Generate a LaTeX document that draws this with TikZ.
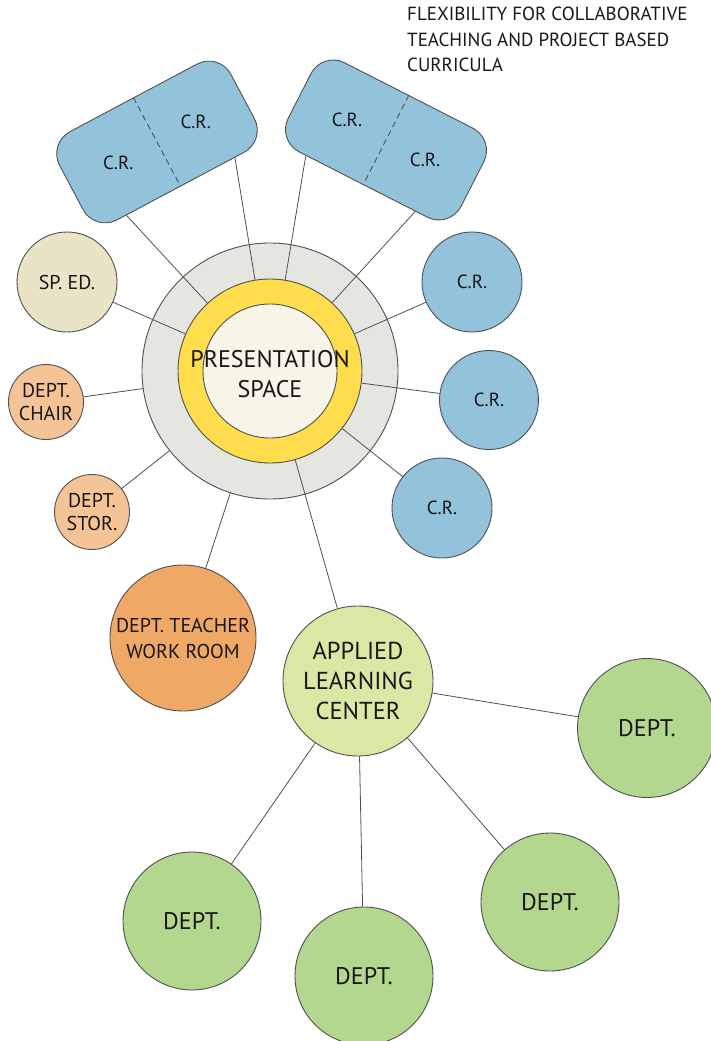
\documentclass[tikz,border=0pt]{standalone}
\usepackage{fontspec}
\setmainfont{PT Sans}
\usetikzlibrary{calc}

\definecolor{edgegrey}{RGB}{80,80,80}
\definecolor{ink}{RGB}{25,22,23}
\definecolor{crblue}{RGB}{147,194,219}
\definecolor{ringgrey}{RGB}{230,230,225}
\definecolor{ringyellow}{RGB}{255,221,76}
\definecolor{presfill}{RGB}{248,244,232}
\definecolor{spedfill}{RGB}{234,228,198}
\definecolor{deptpeach}{RGB}{245,196,150}
\definecolor{workorange}{RGB}{239,168,102}
\definecolor{alcgreen}{RGB}{218,232,166}
\definecolor{deptgreen}{RGB}{180,215,143}

\begin{document}
\begin{tikzpicture}[x=1pt,y=1pt,yscale=-1,xscale=1,
		bubble/.style={circle,draw=edgegrey,line width=0.9pt,inner sep=0pt,text=ink,align=center},
		crpair/.style={rectangle,draw=edgegrey,line width=0.9pt,fill=crblue,rounded corners=25pt,minimum width=194pt,minimum height=100pt},
		crtext/.style={text=ink,font=\fontsize{19}{22}\selectfont},
		link/.style={draw=edgegrey,line width=0.8pt}]
		\useasboundingbox (0,0) rectangle (710,1041);

		% The heading in the upper right corner
		\node[anchor=north west,inner sep=0pt,align=left,text=ink,font=\fontsize{19}{25.5}\selectfont] (heading) at (407,7)
		{FLEXIBILITY FOR COLLABORATIVE\\TEACHING AND PROJECT BASED\\CURRICULA};

		% The three rings of the presentation space
		\node[bubble,fill=ringgrey,minimum size=256pt] (ring) at (270,371) {};
		\node[bubble,fill=ringyellow,minimum size=184pt] (pres) at (270,371) {};
		\node[bubble,fill=presfill,minimum size=134pt] (presin) at (270,371) {};
		\node[text=ink,align=center,font=\fontsize{24}{30}\selectfont] (prestext) at (270,374) {PRESENTATION\\SPACE};

		% The two paired classrooms at the top, split by a dashed line
		\node[crpair,rotate=28] (crL) at (157,142) {};
		\node[crpair,rotate=-27] (crR) at (386,140) {};
		\draw[edgegrey,line width=0.9pt,dash pattern=on 6pt off 4pt] (crL.north) -- (crL.south);
		\draw[edgegrey,line width=0.9pt,dash pattern=on 6pt off 4pt] (crR.north) -- (crR.south);
		\node[crtext] (crLa) at ($(crL.center)!0.45!(crL.west)$) {C.R.};
		\node[crtext] (crLb) at ($(crL.center)!0.45!(crL.east)$) {C.R.};
		\node[crtext] (crRa) at ($(crR.center)!0.45!(crR.west)$) {C.R.};
		\node[crtext] (crRb) at ($(crR.center)!0.45!(crR.east)$) {C.R.};
		\coordinate (crLl) at ($(crL.south)!0.63!(crL.south west)$);
		\coordinate (crLr) at ($(crL.south)!0.63!(crL.south east)$);
		\coordinate (crRl) at ($(crR.south)!0.66!(crR.south west)$);
		\coordinate (crRr) at ($(crR.south)!0.6!(crR.south east)$);

		% The single classrooms on the right
		\node[bubble,fill=crblue,minimum size=100pt,font=\fontsize{19}{22}\selectfont] (crA) at (472,282) {C.R.};
		\node[bubble,fill=crblue,minimum size=99pt,font=\fontsize{19}{22}\selectfont] (crB) at (489,400) {C.R.};
		\node[bubble,fill=crblue,minimum size=100pt,font=\fontsize{19}{22}\selectfont] (crC) at (442,508) {C.R.};

		% The support rooms on the left
		\node[bubble,fill=spedfill,minimum size=100pt,font=\fontsize{20}{22}\selectfont] (sped) at (67,282) {SP. ED.};
		\node[bubble,fill=deptpeach,minimum size=75pt,font=\fontsize{20}{23}\selectfont] (chair) at (46,402) {DEPT.\\CHAIR};
		\node[bubble,fill=deptpeach,minimum size=75pt,font=\fontsize{20}{23}\selectfont] (stor) at (92,512) {DEPT.\\STOR.};
		\node[bubble,fill=workorange,minimum size=146pt,font=\fontsize{20}{26}\selectfont] (work) at (183,638) {DEPT. TEACHER\\WORK ROOM};

		% The applied learning center and its departments
		\node[bubble,fill=alcgreen,minimum size=150pt,font=\fontsize{24.5}{30}\selectfont] (alc) at (358,681) {APPLIED\\LEARNING\\CENTER};
		\node[bubble,fill=deptgreen,minimum size=139pt,font=\fontsize{24}{28}\selectfont] (deptE) at (647,728) {DEPT.};
		\node[bubble,fill=deptgreen,minimum size=138pt,font=\fontsize{24}{28}\selectfont] (deptSE) at (550,902) {DEPT.};
		\node[bubble,fill=deptgreen,minimum size=138pt,font=\fontsize{24}{28}\selectfont] (deptS) at (364,976) {DEPT.};
		\node[bubble,fill=deptgreen,minimum size=138pt,font=\fontsize{24}{28}\selectfont] (deptSW) at (192,921) {DEPT.};

		% Links that reach the yellow ring
		\draw[link] (crLl) -- (pres);
		\draw[link] (crLr) -- (pres);
		\draw[link] (crRl) -- (pres);
		\draw[link] (crRr) -- (pres);
		\draw[link] (crA) -- (pres);
		\draw[link] (crB) -- (pres);
		\draw[link] (crC) -- (pres);
		\draw[link] (sped) -- (pres);
		\draw[link] (alc) -- (pres);

		% Links that stop at the grey ring
		\draw[link] (chair) -- (ring);
		\draw[link] (stor) -- (ring);
		\draw[link] (work) -- (ring);

		% Links from the applied learning center
		\draw[link] (alc) -- (deptE);
		\draw[link] (alc) -- (deptSE);
		\draw[link] (alc) -- (deptS);
		\draw[link] (alc) -- (deptSW);
	\end{tikzpicture}
\end{document}
